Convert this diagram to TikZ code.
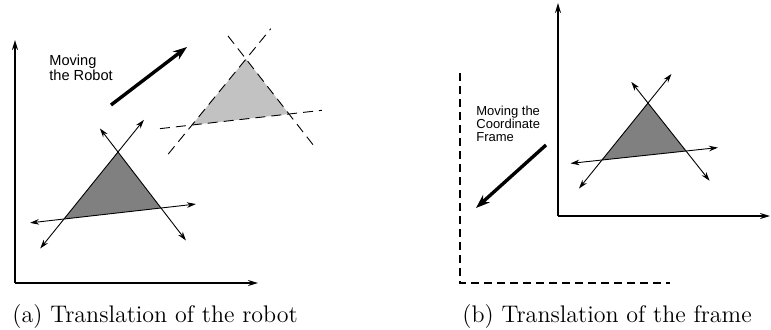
\documentclass[tikz,border=0pt]{standalone}
\usepackage{fontspec}
\newfontfamily\notefont{Liberation Sans}
\usetikzlibrary{arrows.meta, calc}
\definecolor{robotdark}{gray}{0.5}
\definecolor{robotlight}{gray}{0.76}

\begin{document}
\begin{tikzpicture}[
  x=0.5pt, y=-0.5pt,
  axis/.style={line width=0.8pt, -{Stealth[length=5pt, width=3pt]}},
  move/.style={line width=1.7pt, -{Stealth[length=7pt, width=5pt]}},
  edgeline/.style={line width=0.45pt,
    {Stealth[length=4.5pt, width=2.8pt]}-{Stealth[length=4.5pt, width=2.8pt]}},
  ghost/.style={line width=0.45pt, dash pattern=on 5pt off 3pt},
  oldframe/.style={line width=0.9pt, dash pattern=on 4pt off 2.5pt},
  note/.style={font=\notefont\fontsize{7.3}{7.1}\selectfont,
    align=left, inner sep=0pt, anchor=north west},
  smallnote/.style={note, font=\notefont\fontsize{6.5}{6.45}\selectfont},
  caption/.style={font=\fontsize{12}{14}\selectfont,
    inner sep=0pt, anchor=base west}
]
\useasboundingbox (0,0) rectangle (771,329);

% ── (a) moving the robot ──────────────────────────────────────────────────────
\coordinate (aOrigin) at (15,283);
\coordinate (aYend) at (15,40);
\coordinate (aXend) at (258,283);
\draw[axis] (aOrigin) -- (aYend);
\draw[axis] (aOrigin) -- (aXend);

\node[note] (aNote) at (49,55) {Moving\\the Robot};
\coordinate (aFrom) at (111,105);
\coordinate (aTo) at (187,47);
\draw[move] (aFrom) -- (aTo);

% robot before the move
\coordinate (aTop) at (118,152);
\coordinate (aLeft) at (64,219);
\coordinate (aRight) at (161,208);
\fill[robotdark] (aTop) -- (aLeft) -- (aRight) -- cycle;
\draw[edgeline] ($(aLeft)!-0.44!(aTop)$) -- ($(aLeft)!1.48!(aTop)$);
\draw[edgeline] ($(aTop)!-0.42!(aRight)$) -- ($(aTop)!1.58!(aRight)$);
\draw[edgeline] ($(aLeft)!-0.35!(aRight)$) -- ($(aLeft)!1.36!(aRight)$);

% robot after the move
\coordinate (gTop) at (246,59);
\coordinate (gLeft) at (192,125);
\coordinate (gRight) at (289,114);
\fill[robotlight] (gTop) -- (gLeft) -- (gRight) -- cycle;
\draw[ghost] ($(gLeft)!-0.44!(gTop)$) -- ($(gLeft)!1.46!(gTop)$);
\draw[ghost] ($(gTop)!-0.42!(gRight)$) -- ($(gTop)!1.56!(gRight)$);
\draw[ghost] ($(gLeft)!-0.33!(gRight)$) -- ($(gLeft)!1.34!(gRight)$);

\node[caption] (aCaption) at (12,322) {(a) Translation of the robot};

% ── (b) moving the frame ──────────────────────────────────────────────────────
\coordinate (bOld) at (460,283);
\draw[oldframe] (460,73) -- (bOld) -- (670,283);

\coordinate (bOrigin) at (558,216);
\coordinate (bYend) at (558,3);
\coordinate (bXend) at (770,216);
\draw[axis] (bOrigin) -- (bYend);
\draw[axis] (bOrigin) -- (bXend);

\node[smallnote] (bNote) at (476,106) {Moving the\\Coordinate\\Frame};
\coordinate (bFrom) at (546,145);
\coordinate (bTo) at (476,208);
\draw[move] (bFrom) -- (bTo);

\coordinate (bTop) at (648,103);
\coordinate (bLeft) at (602,160);
\coordinate (bRight) at (686,151);
\fill[robotdark] (bTop) -- (bLeft) -- (bRight) -- cycle;
\draw[edgeline] ($(bLeft)!-0.5!(bTop)$) -- ($(bLeft)!1.51!(bTop)$);
\draw[edgeline] ($(bTop)!-0.44!(bRight)$) -- ($(bTop)!1.62!(bRight)$);
\draw[edgeline] ($(bLeft)!-0.375!(bRight)$) -- ($(bLeft)!1.38!(bRight)$);

\node[caption] (bCaption) at (462,322) {(b) Translation of the frame};

\end{tikzpicture}
\end{document}
